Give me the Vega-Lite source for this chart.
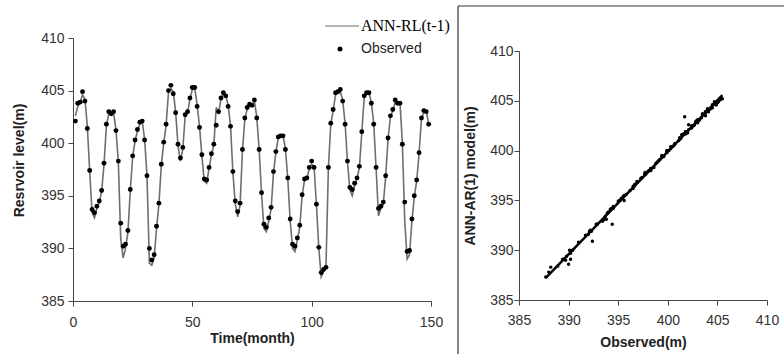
{
  "$schema": "https://vega.github.io/schema/vega-lite/v6.json",
  "padding": {"left": 12, "top": 5, "right": 0, "bottom": 0},
  "background": "white",
  "config": {
    "view": {"stroke": null},
    "font": "Liberation Sans",
    "axis": {
      "grid": false,
      "labelFlush": false,
      "tickSize": 5,
      "tickColor": "#444",
      "domainColor": "#444",
      "labelFont": "Liberation Sans",
      "labelFontSize": 14,
      "labelColor": "#333",
      "titleFont": "Liberation Sans",
      "titleFontSize": 14,
      "titleFontWeight": "bold",
      "titleColor": "#222"
    }
  },
  "datasets": {
    "series": [
      {"t":1,"obs":402.1,"model":402.6},{"t":2,"obs":403.8,"model":403.5},{"t":3,"obs":403.9,"model":403.9},{"t":4,"obs":404.9,"model":404.6},{"t":5,"obs":404.0,"model":404.2},
      {"t":6,"obs":401.4,"model":401.6},{"t":7,"obs":397.4,"model":397.3},{"t":8,"obs":393.7,"model":393.4},{"t":9,"obs":393.4,"model":392.9},{"t":10,"obs":394.0,"model":393.8},
      {"t":11,"obs":394.5,"model":394.4},{"t":12,"obs":395.5,"model":395.4},{"t":13,"obs":398.1,"model":398.0},{"t":14,"obs":401.8,"model":401.7},{"t":15,"obs":403.0,"model":402.8},
      {"t":16,"obs":402.8,"model":402.9},{"t":17,"obs":403.0,"model":402.9},{"t":18,"obs":401.2,"model":401.3},{"t":19,"obs":398.3,"model":398.2},{"t":20,"obs":392.4,"model":390.9},
      {"t":21,"obs":390.2,"model":389.1},{"t":22,"obs":390.4,"model":390.0},{"t":23,"obs":391.7,"model":391.5},{"t":24,"obs":395.6,"model":395.5},{"t":25,"obs":398.8,"model":398.7},
      {"t":26,"obs":400.3,"model":400.2},{"t":27,"obs":401.3,"model":401.2},{"t":28,"obs":402.0,"model":401.8},{"t":29,"obs":402.1,"model":402.1},{"t":30,"obs":400.3,"model":400.4},
      {"t":31,"obs":396.9,"model":396.9},{"t":32,"obs":390.0,"model":388.6},{"t":33,"obs":388.9,"model":388.4},{"t":34,"obs":389.4,"model":389.1},{"t":35,"obs":392.1,"model":391.9},
      {"t":36,"obs":394.3,"model":394.2},{"t":37,"obs":398.0,"model":397.9},{"t":38,"obs":400.1,"model":400.0},{"t":39,"obs":401.8,"model":401.7},{"t":40,"obs":405.0,"model":404.8},
      {"t":41,"obs":405.5,"model":405.2},{"t":42,"obs":404.7,"model":404.9},{"t":43,"obs":402.9,"model":403.0},{"t":44,"obs":399.9,"model":399.8},{"t":45,"obs":398.6,"model":398.3},
      {"t":46,"obs":399.6,"model":399.4},{"t":47,"obs":402.7,"model":402.6},{"t":48,"obs":403.0,"model":402.9},{"t":49,"obs":404.3,"model":404.2},{"t":50,"obs":405.3,"model":405.1},
      {"t":51,"obs":405.3,"model":405.2},{"t":52,"obs":403.5,"model":403.7},{"t":53,"obs":401.5,"model":401.6},{"t":54,"obs":398.9,"model":398.8},{"t":55,"obs":396.6,"model":396.4},
      {"t":56,"obs":396.5,"model":396.2},{"t":57,"obs":397.7,"model":397.6},{"t":58,"obs":399.0,"model":398.9},{"t":59,"obs":399.9,"model":399.8},{"t":60,"obs":401.7,"model":403.4},
      {"t":61,"obs":403.0,"model":402.9},{"t":62,"obs":404.3,"model":404.2},{"t":63,"obs":404.8,"model":404.7},{"t":64,"obs":404.5,"model":404.6},{"t":65,"obs":403.5,"model":403.6},
      {"t":66,"obs":401.6,"model":401.7},{"t":67,"obs":397.3,"model":397.2},{"t":68,"obs":394.5,"model":394.2},{"t":69,"obs":393.5,"model":393.0},{"t":70,"obs":394.3,"model":394.1},
      {"t":71,"obs":399.4,"model":399.3},{"t":72,"obs":402.4,"model":402.3},{"t":73,"obs":403.4,"model":403.3},{"t":74,"obs":403.7,"model":403.6},{"t":75,"obs":403.6,"model":403.6},
      {"t":76,"obs":404.1,"model":404.0},{"t":77,"obs":402.4,"model":402.5},{"t":78,"obs":399.4,"model":399.4},{"t":79,"obs":395.3,"model":395.2},{"t":80,"obs":392.3,"model":391.9},
      {"t":81,"obs":392.0,"model":391.6},{"t":82,"obs":392.9,"model":392.6},{"t":83,"obs":393.9,"model":393.7},{"t":84,"obs":397.3,"model":397.2},{"t":85,"obs":399.2,"model":399.1},
      {"t":86,"obs":400.6,"model":400.5},{"t":87,"obs":400.7,"model":400.6},{"t":88,"obs":400.7,"model":400.7},{"t":89,"obs":399.4,"model":399.5},{"t":90,"obs":396.7,"model":396.6},
      {"t":91,"obs":392.8,"model":392.6},{"t":92,"obs":390.4,"model":390.0},{"t":93,"obs":390.2,"model":389.7},{"t":94,"obs":391.0,"model":390.8},{"t":95,"obs":392.2,"model":392.0},
      {"t":96,"obs":395.1,"model":395.0},{"t":97,"obs":396.6,"model":396.5},{"t":98,"obs":396.7,"model":396.6},{"t":99,"obs":397.7,"model":397.6},{"t":100,"obs":398.3,"model":398.0},
      {"t":101,"obs":397.7,"model":397.8},{"t":102,"obs":394.2,"model":394.1},{"t":103,"obs":390.1,"model":390.0},{"t":104,"obs":387.7,"model":387.3},{"t":105,"obs":388.0,"model":387.8},
      {"t":106,"obs":388.2,"model":388.3},{"t":107,"obs":397.7,"model":397.6},{"t":108,"obs":401.9,"model":401.8},{"t":109,"obs":403.2,"model":403.1},{"t":110,"obs":404.8,"model":404.6},
      {"t":111,"obs":404.9,"model":404.8},{"t":112,"obs":405.1,"model":404.9},{"t":113,"obs":404.0,"model":404.1},{"t":114,"obs":401.8,"model":401.9},{"t":115,"obs":398.3,"model":398.2},
      {"t":116,"obs":395.8,"model":395.6},{"t":117,"obs":395.6,"model":395.0},{"t":118,"obs":396.2,"model":396.0},{"t":119,"obs":396.7,"model":396.6},{"t":120,"obs":397.8,"model":397.7},
      {"t":121,"obs":401.1,"model":401.0},{"t":122,"obs":404.5,"model":404.3},{"t":123,"obs":404.8,"model":404.7},{"t":124,"obs":404.8,"model":404.8},{"t":125,"obs":403.8,"model":403.9},
      {"t":126,"obs":401.8,"model":401.9},{"t":127,"obs":397.7,"model":397.6},{"t":128,"obs":393.8,"model":393.1},{"t":129,"obs":394.0,"model":393.8},{"t":130,"obs":394.4,"model":394.2},
      {"t":131,"obs":396.9,"model":396.8},{"t":132,"obs":400.5,"model":400.4},{"t":133,"obs":402.6,"model":402.5},{"t":134,"obs":403.2,"model":403.1},{"t":135,"obs":404.1,"model":403.9},
      {"t":136,"obs":403.8,"model":403.8},{"t":137,"obs":403.8,"model":403.9},{"t":138,"obs":399.9,"model":400.0},{"t":139,"obs":394.4,"model":392.6},{"t":140,"obs":389.7,"model":389.0},
      {"t":141,"obs":389.8,"model":389.4},{"t":142,"obs":392.8,"model":392.6},{"t":143,"obs":395.0,"model":394.9},{"t":144,"obs":396.5,"model":396.4},{"t":145,"obs":399.1,"model":399.0},
      {"t":146,"obs":402.4,"model":402.3},{"t":147,"obs":403.1,"model":403.0},{"t":148,"obs":403.0,"model":403.1},{"t":149,"obs":401.8,"model":401.9}
    ]
  },
  "bounds": "flush",
  "spacing": 88,
  "resolve": {"scale": {"color": "independent", "shape": "independent"}},
  "hconcat": [
    {
      "width": 358,
      "height": 263,
      "data": {"name": "series"},
      "layer": [
        {
          "mark": {"type": "line", "strokeWidth": 1.6},
          "encoding": {
            "x": {"field": "t", "type": "quantitative", "scale": {"domain": [0, 150], "nice": false},
                  "axis": {"values": [0, 50, 100, 150], "title": "Time(month)", "labelPadding": 9, "titlePadding": 2}},
            "y": {"field": "model", "type": "quantitative", "scale": {"domain": [385, 410], "nice": false, "zero": false},
                  "axis": {"values": [385, 390, 395, 400, 405, 410], "title": "Resrvoir level(m)", "labelPadding": 4, "titlePadding": 14, "titleY": 122}},
            "color": {"datum": "ANN-RL(t-1)", "type": "nominal", "scale": {"range": ["#6e6e6e"]},
                      "legend": {"orient": "none", "legendX": 251, "legendY": -30, "title": null, "padding": 0,
                                 "symbolType": "stroke", "symbolSize": 1156, "symbolStrokeWidth": 1.2, "symbolStrokeColor": "black",
                                 "labelFont": "Liberation Serif", "labelFontSize": 16, "labelColor": "black", "labelOffset": 1}}
          }
        },
        {
          "mark": {"type": "point", "filled": true, "size": 24, "opacity": 1, "color": "black"},
          "encoding": {
            "x": {"field": "t", "type": "quantitative"},
            "y": {"field": "obs", "type": "quantitative", "title": "Resrvoir level(m)"},
            "shape": {"datum": "Observed", "type": "nominal", "scale": {"range": ["circle"]},
                      "legend": {"orient": "none", "legendX": 260, "legendY": 4, "title": null, "padding": 0,
                                 "symbolSize": 25, "symbolFillColor": "black", "symbolStrokeColor": "black", "symbolStrokeWidth": 0,
                                 "labelFont": "Liberation Sans", "labelFontSize": 14, "labelColor": "#222", "labelOffset": 14}}
          }
        }
      ]
    },
    {
      "bounds": "flush",
      "spacing": 12,
      "vconcat": [
        {
          "width": 248,
          "height": 1,
          "data": {"values": []},
          "mark": "point",
          "encoding": {}
        },
        {
          "width": 248,
          "height": 249,
          "layer": [
            {
              "data": {"name": "series"},
              "mark": {"type": "point", "filled": true, "size": 12, "opacity": 1, "color": "black"},
              "encoding": {
                "x": {"field": "obs", "type": "quantitative", "scale": {"domain": [385, 410], "nice": false, "zero": false},
                      "axis": {"values": [385, 390, 395, 400, 405, 410], "title": "Observed(m)", "labelPadding": 8, "titlePadding": 8}},
                "y": {"field": "model", "type": "quantitative", "scale": {"domain": [385, 410], "nice": false, "zero": false},
                      "axis": {"values": [385, 390, 395, 400, 405, 410], "title": "ANN-AR(1) model(m)", "labelPadding": 1, "titlePadding": 12}}
              }
            },
            {
              "data": {"name": "series"},
              "transform": [{"regression": "model", "on": "obs"}],
              "mark": {"type": "line", "color": "black", "strokeWidth": 2.5},
              "encoding": {
                "x": {"field": "obs", "type": "quantitative"},
                "y": {"field": "model", "type": "quantitative"}
              }
            },
            {
              "mark": {"type": "text", "text": "y = 1.0189x - 7.964", "fontSize": 14, "color": "#222", "font": "Liberation Sans"},
              "encoding": {"x": {"datum": 394.24}, "y": {"datum": 409.05}}
            },
            {
              "mark": {"type": "text", "text": "R² = 0.9966", "fontSize": 14, "color": "#222", "font": "Liberation Sans"},
              "encoding": {"x": {"datum": 394.63}, "y": {"datum": 407.1}}
            },
            {
              "data": {"values": [{}]},
              "mark": {"type": "rule", "color": "#333", "strokeWidth": 1.2, "clip": false},
              "encoding": {"x": {"datum": 378.85, "type": "quantitative"}, "y": {"datum": 379, "type": "quantitative"}, "y2": {"datum": 414.52}}
            },
            {
              "data": {"values": [{}]},
              "mark": {"type": "rule", "color": "#333", "strokeWidth": 1.2, "clip": false},
              "encoding": {"x": {"datum": 378.85, "type": "quantitative"}, "x2": {"datum": 413}, "y": {"datum": 414.52, "type": "quantitative"}}
            }
          ]
        }
      ]
    }
  ]
}
